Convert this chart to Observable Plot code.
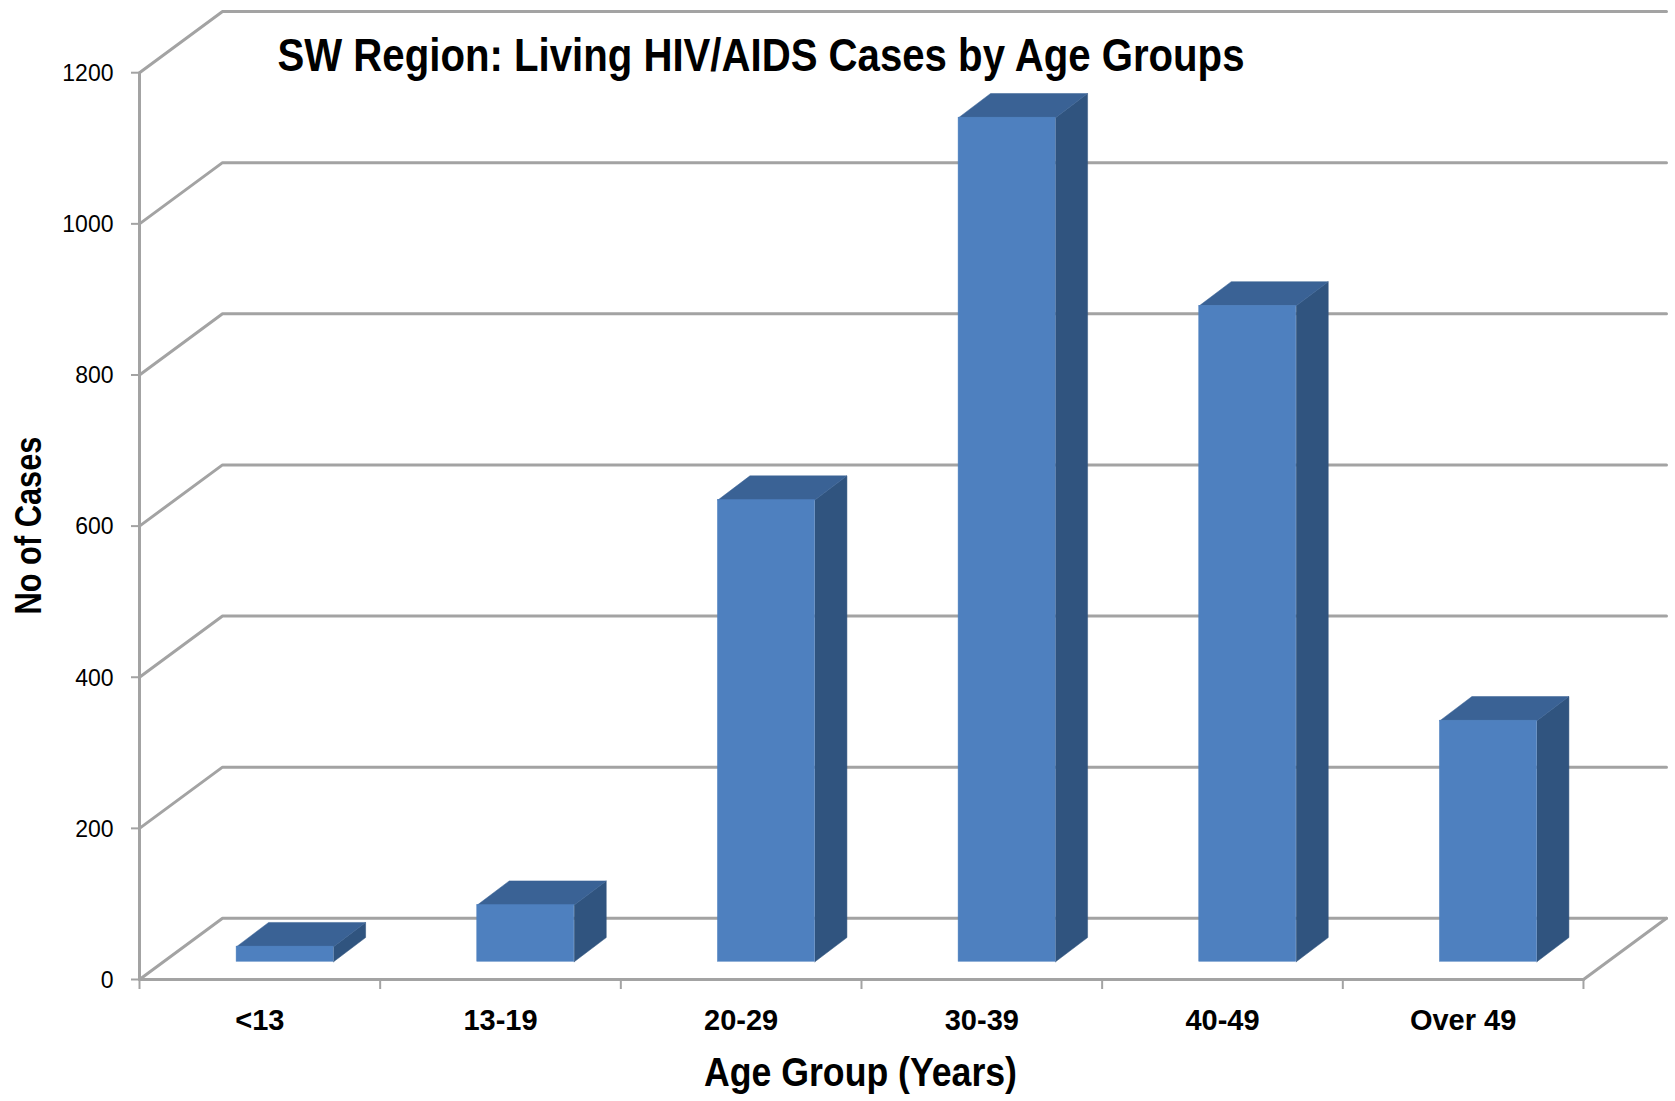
<!DOCTYPE html>
<html>
<head>
<meta charset="utf-8">
<script src="https://cdn.jsdelivr.net/npm/d3@7"></script>
<script src="https://cdn.jsdelivr.net/npm/@observablehq/plot@0.6"></script>
<style>
  html, body { margin: 0; padding: 0; background: #fff; }
  svg { display: block; }
</style>
</head>
<body>
<div id="chart"></div>
<script>
const categories = ["<13", "13-19", "20-29", "30-39", "40-49", "Over 49"];
const cases = [20, 75, 611, 1117, 868, 319];
const yTicks = [0, 200, 400, 600, 800, 1000, 1200];
const xTicks = [0, 1, 2, 3, 4, 5, 6];
const labelTicks = [0.5, 1.5, 2.5, 3.5, 4.5, 5.5];

const titleText = "SW Region: Living HIV/AIDS Cases by Age Groups";
const xTitle = "Age Group (Years)";
const yTitle = "No of Cases";

// Oblique projection of the 3D box, in data units
const wallX = 0.345, wallY = 81;        // floor depth
const barW = 0.403;                     // front face width
const barDX = 0.133, barDY = 32;        // bar depth
const baseX = 0.105, baseY = 23.5;      // bar front's setback from the floor front

const font = "'Liberation Sans', sans-serif";
const gray = "#a3a3a3";

const gridPath = yTicks.flatMap(v => [
  {g: v, x: 0, y: v},
  {g: v, x: wallX, y: v + wallY},
  {g: v, x: 6 + wallX, y: v + wallY}
]);
const floorEdges = [
  {g: "front", x: 0, y: 0}, {g: "front", x: 6, y: 0},
  {g: "right", x: 6, y: 0}, {g: "right", x: 6 + wallX, y: wallY}
];

const bars = cases.map((v, i) => {
  const x1 = i + 0.5 - barW / 2 + baseX;
  return {i, v, x1, x2: x1 + barW, y1: baseY, y2: baseY + v};
});
const topFaces = bars.flatMap(b => [
  {g: b.i, x: b.x1, y: b.y2},
  {g: b.i, x: b.x2, y: b.y2},
  {g: b.i, x: b.x2 + barDX, y: b.y2 + barDY},
  {g: b.i, x: b.x1 + barDX, y: b.y2 + barDY},
  {g: b.i, x: b.x1, y: b.y2}
]);
const sideFaces = bars.flatMap(b => [
  {g: b.i, x: b.x2, y: b.y1},
  {g: b.i, x: b.x2 + barDX, y: b.y1 + barDY},
  {g: b.i, x: b.x2 + barDX, y: b.y2 + barDY},
  {g: b.i, x: b.x2, y: b.y2},
  {g: b.i, x: b.x2, y: b.y1}
]);

const chart = Plot.plot({
  width: 1675,
  height: 1101,
  marginLeft: 139,
  marginRight: 9,
  marginTop: 11,
  marginBottom: 122,
  style: {background: "#fff", fontFamily: font},
  x: {domain: [0, 6 + wallX], axis: null},
  y: {domain: [0, 1200 + wallY], axis: null},
  marks: [
    Plot.line(gridPath, {x: "x", y: "y", z: "g", stroke: gray, strokeWidth: 3, curve: "linear"}),
    Plot.line(floorEdges, {x: "x", y: "y", z: "g", stroke: gray, strokeWidth: 3, curve: "linear"}),
    Plot.ruleX([0], {y1: 0, y2: 1200, stroke: gray, strokeWidth: 3}),

    Plot.axisY({
      ticks: yTicks, anchor: "left", tickSize: 8, stroke: gray, strokeWidth: 2,
      tickFormat: () => "", label: null
    }),
    Plot.axisY({
      ticks: yTicks, anchor: "left", tickSize: 0, tickPadding: 26, dy: 1,
      fontSize: 23, fill: "#000", label: null, tickFormat: d => String(d)
    }),
    Plot.axisX({
      ticks: xTicks, anchor: "bottom", tickSize: 10, stroke: gray, strokeWidth: 2,
      tickFormat: () => "", label: null
    }),
    Plot.axisX({
      ticks: labelTicks, anchor: "bottom", tickSize: 0, tickPadding: 30, fontSize: 29,
      fontWeight: "bold", fill: "#000", label: null, tickFormat: d => categories[d - 0.5]
    }),

    Plot.line(sideFaces, {x: "x", y: "y", z: "g", fill: "#30547f", stroke: "#30547f", strokeWidth: 0.5}),
    Plot.line(topFaces, {x: "x", y: "y", z: "g", fill: "#3a6295", stroke: "#3a6295", strokeWidth: 0.5}),
    Plot.rect(bars, {x1: "x1", x2: "x2", y1: "y1", y2: "y2", fill: "#4e80bf", stroke: "#4e80bf", strokeWidth: 0.5}),

    Plot.text([titleText], {
      frameAnchor: "top-left", dx: 138, dy: 27, text: d => d, textAnchor: "start",
      fontSize: 46, fontWeight: "bold", fill: "#000"
    }),
    Plot.text([xTitle], {
      frameAnchor: "bottom-left", dx: 721, dy: 106, text: d => d, textAnchor: "middle",
      fontSize: 40, fontWeight: "bold", fill: "#000"
    }),
    Plot.text([yTitle], {
      frameAnchor: "top-left", dx: -124, dy: 514, rotate: -90, text: d => d, textAnchor: "middle",
      fontSize: 36, fontWeight: "bold", fill: "#000"
    })
  ]
});
document.getElementById("chart").appendChild(chart);

// The reference type is condensed: squeeze the real text horizontally to its measured width.
const fitted = new Map([[titleText, 967], [xTitle, 313], [yTitle, 178]]);
chart.querySelectorAll("text").forEach(t => {
  const s = t.textContent;
  if (fitted.has(s)) {
    t.setAttribute("textLength", fitted.get(s));
    t.setAttribute("lengthAdjust", "spacingAndGlyphs");
  }
});
</script>
</body>
</html>
